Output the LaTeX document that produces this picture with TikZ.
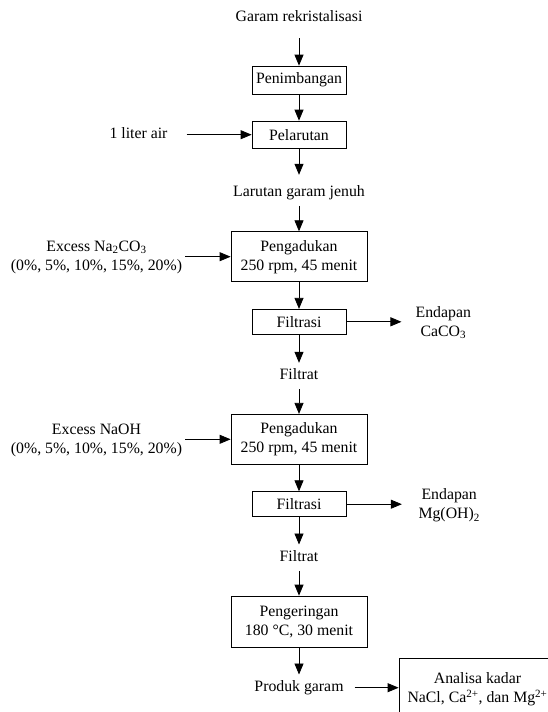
\documentclass[tikz,border=0pt]{standalone}
\usepackage{fontspec}
\setmainfont{Liberation Serif}
\usetikzlibrary{arrows.meta}
\begin{document}
\begin{tikzpicture}[x=1pt,y=-1pt,
  every node/.style={font=\fontsize{15.8}{19}\selectfont},
  box/.style={draw, line width=0.8pt, inner sep=0pt, align=center},
  smallbox/.style={box, minimum width=94pt},
  bigbox/.style={box, minimum width=136pt, minimum height=50pt},
  lbl/.style={inner sep=0pt, minimum height=26pt, text height=10.5pt, text depth=3.5pt},
  side/.style={inner sep=0pt, align=center},
  arr/.style={line width=0.8pt, -{Triangle[length=11pt,width=9pt]}}]
\clip (0,0) rectangle (548,712);
\useasboundingbox (0,0) rectangle (548,712);

% main column
\node[lbl] (garam) at (299,17.7) {Garam rekristalisasi};
\node[smallbox, minimum height=28.3pt] (penim) at (299,80.2) {Penimbangan};
\node[smallbox, minimum height=27.3pt] (pelar) at (299,134.7) {Pelarutan};
\node[lbl] (air) at (138.5,134.7) {1 liter air};
\node[lbl] (larutan) at (299,192.7) {Larutan garam jenuh};

\node[bigbox] (peng1) at (299,256.7) {Pengadukan\\250 rpm, 45 menit};
\node[side] (na2) at (96.5,257.5) {Excess Na\textsubscript{2}CO\textsubscript{3}\\(0\%, 5\%, 10\%, 15\%, 20\%)};
\node[smallbox, minimum height=25pt] (filt1) at (299,321.8) {Filtrasi};
\node[side] (end1) at (443.3,322.5) {Endapan\\CaCO\textsubscript{3}};
\node[lbl] (filtrat1) at (299,376) {Filtrat};

\node[bigbox] (peng2) at (299,439.3) {Pengadukan\\250 rpm, 45 menit};
\node[side] (naoh) at (96.5,440) {Excess NaOH\\(0\%, 5\%, 10\%, 15\%, 20\%)};
\node[smallbox, minimum height=25pt] (filt2) at (299,504.2) {Filtrasi};
\node[side] (end2) at (449.2,505.5) {Endapan\\Mg(OH)\textsubscript{2}};
\node[lbl] (filtrat2) at (299,557.7) {Filtrat};

\node[bigbox, minimum height=51.3pt] (peng3) at (299,621.7) {Pengeringan\\180 °C, 30 menit};
\node[lbl] (produk) at (299,687.7) {Produk garam};
\node[box, minimum width=157pt, minimum height=62pt] (anal) at (477.5,689.3) {Analisa kadar\\NaCl, Ca\textsuperscript{2+}, dan Mg\textsuperscript{2+}};

% connectors
\draw[arr, shorten <=7.3pt] (garam) -- (penim);
\draw[arr] (penim) -- (pelar);
\draw[arr, shorten <=19pt] (air.east |- pelar.west) -- (pelar.west);
\draw[arr, shorten >=4.7pt] (pelar) -- (larutan);
\draw[arr] (larutan) -- (peng1);
\draw[arr, shorten <=3pt] (na2.east |- peng1.west) -- (peng1.west);
\draw[arr] (peng1) -- (filt1);
\draw[arr, shorten >=14pt] (filt1.east) -- (filt1.east -| end1.west);
\draw[arr] (filt1) -- (filtrat1);
\draw[arr] (filtrat1) -- (peng2);
\draw[arr, shorten <=3pt] (naoh.east |- peng2.west) -- (peng2.west);
\draw[arr] (peng2) -- (filt2);
\draw[arr, shorten >=16.5pt] (filt2.east) -- (filt2.east -| end2.west);
\draw[arr] (filt2) -- (filtrat2);
\draw[arr] (filtrat2) -- (peng3);
\draw[arr] (peng3) -- (produk);
\draw[arr, shorten <=11pt] (produk.east) -- (anal.west |- produk.east);
\end{tikzpicture}
\end{document}
